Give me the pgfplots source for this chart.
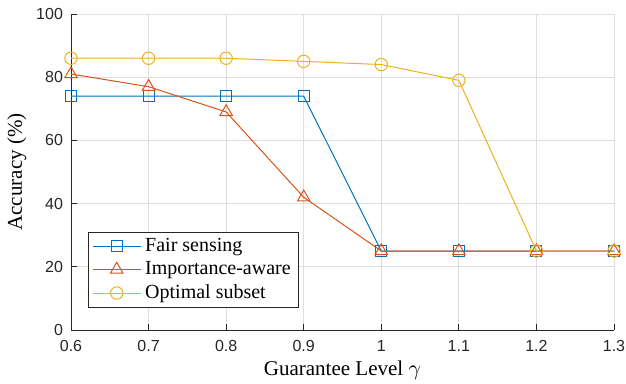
\documentclass[border=0pt]{standalone}
\usepackage{fontspec}
\setmainfont{Liberation Serif}
\newfontfamily\ticksf{Liberation Sans}
\usepackage{pgfplots}
\pgfplotsset{compat=1.18}
\definecolor{mblue}{rgb}{0,0.447,0.741}
\definecolor{mred}{rgb}{0.85,0.325,0.098}
\definecolor{myel}{rgb}{0.929,0.694,0.125}
\definecolor{axgray}{gray}{0.15}
\definecolor{gridgray}{gray}{0.87}
\begin{document}
\begin{tikzpicture}
\begin{axis}[
  name=ax,
  scale only axis,
  width=271.5pt, height=158pt,
  xmin=0.6, xmax=1.3, ymin=0, ymax=100,
  axis lines*=left,
  axis line style={axgray, line width=0.4pt},
  xtick={0.6,0.7,0.8,0.9,1,1.1,1.2,1.3},
  xticklabels={0.6,0.7,0.8,0.9,1,1.1,1.2,1.3},
  ytick={0,20,40,60,80,100},
  tick align=inside,
  major tick length=3pt,
  tick style={axgray, line width=0.4pt},
  grid=major,
  major grid style={gridgray, line width=0.4pt},
  /pgf/number format/assume math mode=true,
  tick label style={font=\ticksf\fontsize{8}{9}\selectfont, text=axgray},
  xticklabel style={yshift=-1.5pt},
  yticklabel style={xshift=-0.5pt},
  label style={font=\fontsize{10.5}{12}\selectfont},
  xlabel={Guarantee Level $\gamma$},
  ylabel={Accuracy (\%)},
  xlabel style={yshift=2pt},
  ylabel style={yshift=-2pt},
  legend style={at={(rel axis cs:0.031,0.07)}, anchor=south west,
    draw=axgray, line width=0.4pt, font=\fontsize{10}{12}\selectfont,
    inner xsep=2pt, inner ysep=1pt, row sep=-0.5pt},
  legend cell align=left,
  legend image code/.code={\draw[mark repeat=2,mark phase=2] plot coordinates {(0pt,0pt) (12pt,0pt) (24pt,0pt)};},
  every axis plot/.append style={line width=0.5pt},
]
\addplot[mblue, mark=square, mark size=2.75pt, mark options={solid}] coordinates {
 (0.6,74) (0.7,74) (0.8,74) (0.9,74) (1.0,25) (1.1,25) (1.2,25) (1.3,25)};
\addlegendentry{Fair sensing}
\addplot[mred, mark=triangle, mark size=3.6pt, mark options={solid}] coordinates {
 (0.6,81) (0.7,77) (0.8,69) (0.9,42) (1.0,25) (1.1,25) (1.2,25) (1.3,25)};
\addlegendentry{Importance-aware}
\addplot[myel, mark=o, mark size=3.1pt, mark options={solid}] coordinates {
 (0.6,86) (0.7,86) (0.8,86) (0.9,85) (1.0,84) (1.1,79) (1.2,25) (1.3,25)};
\addlegendentry{Optimal subset}
\end{axis}
\pgfresetboundingbox
\path ([xshift=-35.5pt,yshift=-26.5pt]ax.south west) rectangle ([xshift=6pt,yshift=7pt]ax.north east);
\end{tikzpicture}
\end{document}
